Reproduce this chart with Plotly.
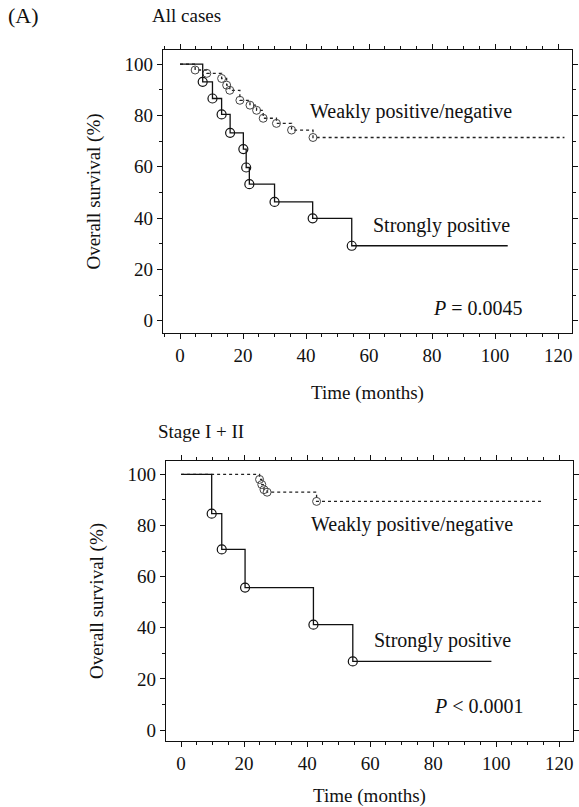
import plotly.graph_objects as go

# ---- data ----
top_strong_t = [0, 7.2, 10.3, 13.2, 15.9, 20.1, 21.0, 22.0, 30.0, 42.1, 54.5, 104]
top_strong_s = [100, 93.1, 86.6, 80.4, 73.2, 66.9, 59.7, 53.2, 46.3, 39.9, 29.2, 29.2]
top_weak_t = [0, 4.8, 8.5, 13.2, 14.8, 15.8, 19.0, 22.2, 24.3, 26.4, 30.6, 35.4, 42.2, 122]
top_weak_s = [100, 97.7, 96.4, 94.4, 91.8, 89.8, 85.9, 84.0, 82.0, 78.9, 76.9, 74.3, 71.4, 71.4]

bot_strong_t = [0, 9.7, 12.9, 20.3, 42.0, 54.5, 98.5]
bot_strong_s = [100, 84.6, 70.6, 55.7, 41.2, 26.8, 26.8]
bot_weak_t = [0, 24.9, 25.6, 26.3, 27.3, 43.0, 115]
bot_weak_s = [100, 98.0, 96.0, 94.0, 93.0, 89.4, 89.4]

x_ticks = [0, 20, 40, 60, 80, 100, 120]
y_ticks = [0, 20, 40, 60, 80, 100]

panel_titles = ["All cases", "Stage I + II"]
p_texts = ["<i>P</i> = 0.0045", "<i>P</i> < 0.0001"]

FONT = "Liberation Serif"
FS = 19      # axis / tick text
FL = 20      # in-plot labels

W, H = 579, 807


def px_x(p):
    return p / W


def px_y(p):
    return 1 - p / H


fig = go.Figure()


def add_curves(t_s, s_s, t_w, s_w, xa, ya):
    fig.add_trace(go.Scatter(x=t_w, y=s_w, mode="lines",
                             line=dict(color="#222", width=1.3, dash="dot", shape="hv"),
                             xaxis=xa, yaxis=ya, showlegend=False, hoverinfo="skip"))
    fig.add_trace(go.Scatter(x=t_w[1:-1], y=s_w[1:-1], mode="markers",
                             marker=dict(symbol="circle-open", size=8, color="#444", line=dict(width=1)),
                             xaxis=xa, yaxis=ya, showlegend=False, hoverinfo="skip"))
    fig.add_trace(go.Scatter(x=t_s, y=s_s, mode="lines", line=dict(color="#111", width=1.3, shape="hv"),
                             xaxis=xa, yaxis=ya, showlegend=False, hoverinfo="skip"))
    fig.add_trace(go.Scatter(x=t_s[1:-1], y=s_s[1:-1], mode="markers",
                             marker=dict(symbol="circle-open", size=9, color="#111", line=dict(width=1.2)),
                             xaxis=xa, yaxis=ya, showlegend=False, hoverinfo="skip"))


add_curves(top_strong_t, top_strong_s, top_weak_t, top_weak_s, "x", "y")
add_curves(bot_strong_t, bot_strong_s, bot_weak_t, bot_weak_s, "x2", "y2")

axis_common = dict(
    showline=True, linecolor="#111", linewidth=1.2, mirror="allticks",
    ticks="outside", ticklen=5, tickwidth=1, tickcolor="#111",
    showgrid=False, zeroline=False,
    tickfont=dict(family=FONT, size=FS, color="#111"),
)


def xa_make(standoff):
    return dict(axis_common, tickmode="array", tickvals=x_ticks, ticktext=[str(v) for v in x_ticks],
                minor=dict(ticks="outside", ticklen=3, tickcolor="#111", tickwidth=1, dtick=5),
                title=dict(text="Time (months)", font=dict(family=FONT, size=FS, color="#111"), standoff=standoff))


ya_common = dict(axis_common, tickmode="array", tickvals=y_ticks, ticktext=[str(v) for v in y_ticks],
                 minor=dict(ticks="outside", ticklen=3, tickcolor="#111", tickwidth=1, dtick=10),
                 title=dict(text="Overall survival (%)", font=dict(family=FONT, size=FS, color="#111"), standoff=18))

fig.update_layout(
    width=W, height=H, margin=dict(l=0, r=0, t=0, b=0),
    paper_bgcolor="white", plot_bgcolor="white",
    font=dict(family=FONT, size=FS, color="#111"),
    xaxis=dict(xa_make(20), domain=[px_x(163), px_x(572)], range=[-5.4, 124.4], anchor="y"),
    yaxis=dict(ya_common, domain=[px_y(333), px_y(50)], range=[-4.8, 105.5], anchor="x"),
    xaxis2=dict(xa_make(16), domain=[px_x(166), px_x(573)], range=[-4.8, 124.4], anchor="y2"),
    yaxis2=dict(ya_common, domain=[px_y(741), px_y(461)], range=[-4.3, 105.2], anchor="x2"),
)

ann = []
ann.append(dict(text="(A)", x=px_x(6), y=px_y(16), xref="paper", yref="paper", xanchor="left", yanchor="middle",
                showarrow=False, font=dict(family=FONT, size=22)))
ann.append(dict(text=panel_titles[0], x=px_x(150), y=px_y(16), xref="paper", yref="paper", xanchor="left",
                yanchor="middle", showarrow=False, font=dict(family=FONT, size=FS)))
ann.append(dict(text=panel_titles[1], x=px_x(156), y=px_y(432), xref="paper", yref="paper", xanchor="left",
                yanchor="middle", showarrow=False, font=dict(family=FONT, size=FS)))

ann.append(dict(text="Weakly positive/negative", x=40.7, y=81.4, xref="x", yref="y", xanchor="left",
                yanchor="middle", showarrow=False, font=dict(family=FONT, size=FL)))
ann.append(dict(text="Strongly positive", x=60.5, y=37, xref="x", yref="y", xanchor="left",
                yanchor="middle", showarrow=False, font=dict(family=FONT, size=FL)))
ann.append(dict(text=p_texts[0], x=109.5, y=4.9, xref="x", yref="y", xanchor="right",
                yanchor="middle", showarrow=False, font=dict(family=FONT, size=FL)))

ann.append(dict(text="Weakly positive/negative", x=40.5, y=80.3, xref="x2", yref="y2", xanchor="left",
                yanchor="middle", showarrow=False, font=dict(family=FONT, size=FL)))
ann.append(dict(text="Strongly positive", x=60.5, y=35, xref="x2", yref="y2", xanchor="left",
                yanchor="middle", showarrow=False, font=dict(family=FONT, size=FL)))
ann.append(dict(text=p_texts[1], x=109.5, y=9.2, xref="x2", yref="y2", xanchor="right",
                yanchor="middle", showarrow=False, font=dict(family=FONT, size=FL)))

fig.update_layout(annotations=ann)

# remove the browser's default body margin so the 579x807 figure fills the window exactly
fig.write_html("out.html",
               config={"displayModeBar": False},
               post_script="document.body.style.margin='0';document.documentElement.style.overflow='hidden';")
